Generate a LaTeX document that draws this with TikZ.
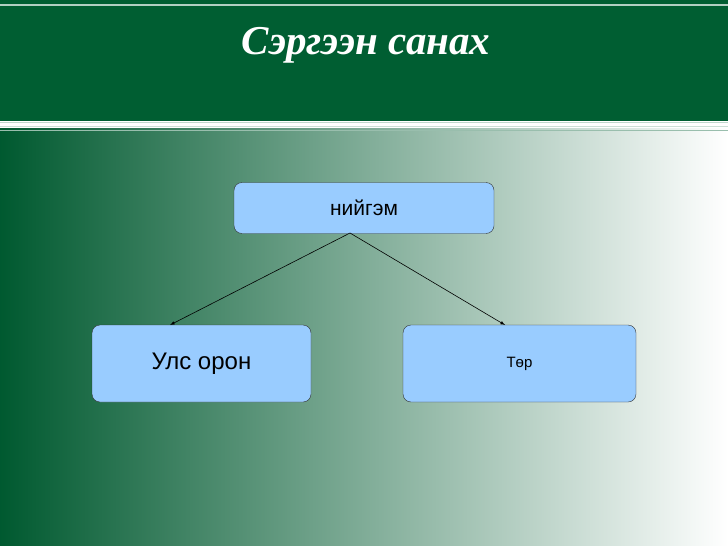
\documentclass[tikz,border=0pt]{standalone}
\usepackage{fontspec}
\setmainfont{Liberation Sans}
\newfontfamily\titlefont{Liberation Serif}
\usetikzlibrary{positioning,arrows}
\definecolor{hdgreen}{RGB}{0,94,50}
\definecolor{boxblue}{RGB}{153,204,255}
\tikzset{
  box/.style={draw=black!80,fill=boxblue,rounded corners=8pt,inner sep=0pt},
  arr/.style={-latex,black,line width=0.6pt}
}
\begin{document}
\begin{tikzpicture}[x=1pt,y=-1pt]
\useasboundingbox (0,0) rectangle (728,546);
%Hintergrund
\shade[left color=hdgreen!95!black,middle color=hdgreen!55!white,right color=white] (0,128) rectangle (728,546);
\fill[hdgreen] (0,0) rectangle (728,121);
\draw[white!70!hdgreen,line width=1.5pt] (0,5) -- (728,5);
\draw[white!75!hdgreen,line width=1pt] (0,122) -- (728,122);
\draw[white!80!hdgreen,line width=1pt] (0,126) -- (728,126);
\draw[white!60!hdgreen,line width=0.8pt] (0,130) -- (728,130);
\node[text=white,font=\titlefont\bfseries\itshape\fontsize{41}{44}\selectfont] (title) at (366,45) {Сэргээн санах};
%Kästen
\node[box,minimum width=260pt,minimum height=51pt,font=\fontsize{21}{24}\selectfont] (nig) at (364,208) {нийгэм};
\node[box,minimum width=219pt,minimum height=77pt,font=\fontsize{24}{27}\selectfont] (uls) at (201.5,363.5) {Улс орон};
\node[box,minimum width=233pt,minimum height=77pt,font=\fontsize{15}{18}\selectfont] (tor) at (519.5,363.5) {Төр};
%Pfeile
\coordinate (fork) at (350,233);
\coordinate (ulsin) at (170,325);
\coordinate (torin) at (505,325);
\draw[arr] (fork) -- (ulsin);
\draw[arr] (fork) -- (torin);
\end{tikzpicture}
\end{document}
